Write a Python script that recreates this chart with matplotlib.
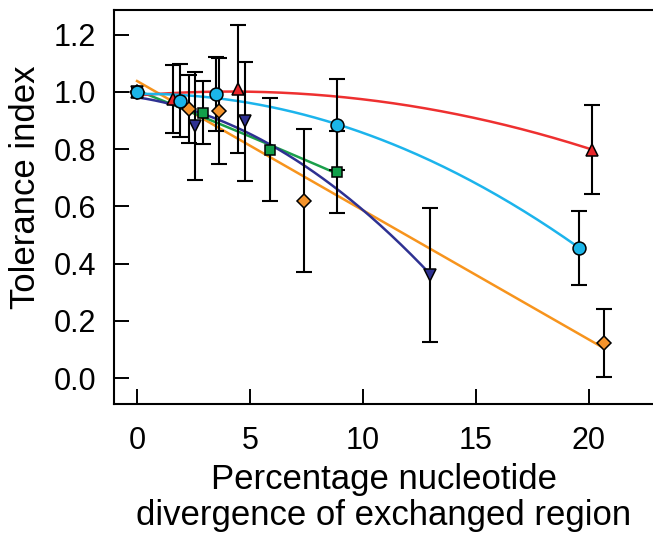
import numpy as np
import matplotlib
matplotlib.use("Agg")
import matplotlib.pyplot as plt

plt.rcParams['font.family'] = ['Liberation Sans', 'DejaVu Sans']

# divergence (%) / tolerance index / error, one set per series
red_x = [0, 1.6, 4.48, 20.16]
red_y = [1.0, 0.975, 1.01, 0.798]
red_err = [0, 0.12, 0.225, 0.155]

cyan_x = [0, 1.9, 3.48, 8.85, 19.59]
cyan_y = [1.0, 0.969, 0.993, 0.886, 0.455]
cyan_err = [0, 0.128, 0.13, 0.16, 0.13]

navy_x = [0, 2.56, 4.77, 12.99]
navy_y = [1.0, 0.882, 0.897, 0.36]
navy_err = [0, 0.188, 0.208, 0.235]

green_x = [0, 2.93, 5.91, 8.85]
green_y = [1.0, 0.928, 0.798, 0.72]
green_err = [0, 0.11, 0.18, 0.142]

orange_x = [0, 2.31, 3.62, 7.38, 20.7]
orange_y = [1.0, 0.94, 0.934, 0.62, 0.123]
orange_err = [0, 0.118, 0.185, 0.25, 0.12]

series = [
    # x, y, err, marker, fill, line colour, fit degree, fit from index, size
    (orange_x, orange_y, orange_err, 'D', '#F4932B', '#F7941D', 1, 1, 7.2),
    (green_x, green_y, green_err, 's', '#12A04A', '#1A9F4A', 2, 0, 7.6),
    (navy_x, navy_y, navy_err, 'v', '#2E3192', '#2E3192', 2, 0, 8.6),
    (red_x, red_y, red_err, '^', '#E8262A', '#EE3030', 2, 0, 8.6),
    (cyan_x, cyan_y, cyan_err, 'o', '#1BB5E8', '#1CB4EC', 2, 0, 9.3),
]

fig = plt.figure(figsize=(6.53, 5.35), dpi=100)
ax = fig.add_axes([0.1746, 0.2449, 0.8254, 0.7364])

for x, y, err, mk, fc, lc, deg, start, ms in series:
    x = np.array(x)
    y = np.array(y)
    coef = np.polyfit(x[start:], y[start:], deg)
    xs = np.linspace(0, x.max(), 200)
    ax.plot(xs, np.polyval(coef, xs), color=lc, lw=1.8, zorder=2)

for x, y, err, mk, fc, lc, deg, start, ms in series:
    e = np.array(err)
    m = e > 0
    ax.errorbar(np.array(x)[m], np.array(y)[m], yerr=e[m], fmt='none',
                ecolor='black', elinewidth=1.5, capsize=5.8, capthick=1.5,
                zorder=3)

for x, y, err, mk, fc, lc, deg, start, ms in series:
    ax.plot(x, y, ls='none', marker=mk, ms=ms, mfc=fc, mec='black',
            mew=1.1, zorder=4)

ax.set_xlim(-1.02, 22.85)
ax.set_ylim(-0.09, 1.286)
ax.set_xticks([0, 5, 10, 15, 20])
ax.set_yticks([0.0, 0.2, 0.4, 0.6, 0.8, 1.0, 1.2])
ax.set_yticklabels(['0.0', '0.2', '0.4', '0.6', '0.8', '1.0', '1.2'])
ax.spines['right'].set_visible(False)
for s in ['left', 'bottom', 'top']:
    ax.spines[s].set_linewidth(1.5)
ax.tick_params(direction='in', length=11, width=1.4, labelsize=22)
ax.tick_params(axis='x', pad=16)
ax.tick_params(axis='y', pad=13)

ax.set_xlabel('Percentage nucleotide\ndivergence of exchanged region',
              fontsize=25, linespacing=1.12, labelpad=5)
ax.set_ylabel('Tolerance index', fontsize=25)
ax.yaxis.set_label_coords(-0.134, 0.549)

fig.savefig('out.png', dpi=100)
